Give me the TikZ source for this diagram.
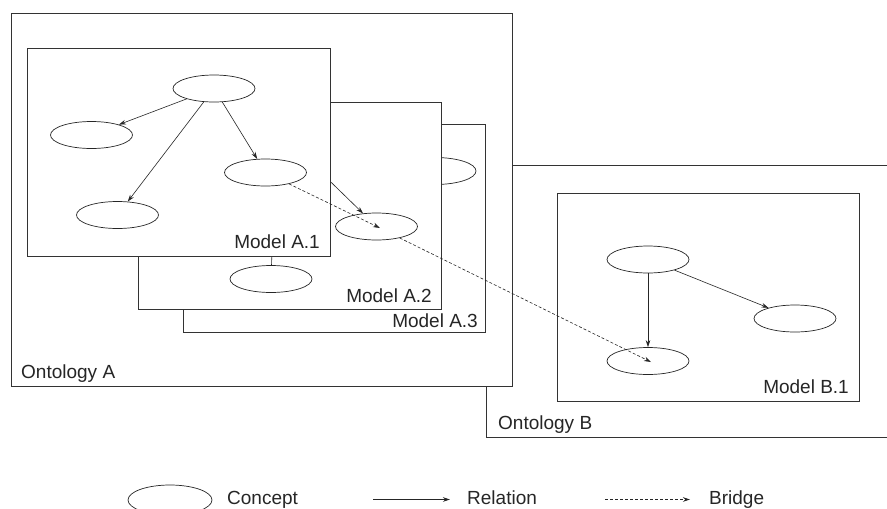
\documentclass[tikz,border=0pt]{standalone}
\usepackage{fontspec}
\setmainfont{Liberation Sans}
\usetikzlibrary{shapes.geometric,arrows.meta}
\begin{document}
\begin{tikzpicture}[x=1pt,y=-1pt,
  frame/.style={draw=black!80, line width=0.8pt, fill=white},
  concept/.style={ellipse, draw=black!85, line width=0.7pt, fill=white,
    minimum width=82pt, minimum height=27pt, inner sep=0pt},
  rel/.style={draw=black!85, line width=0.6pt, -{Stealth[length=7pt,width=4.5pt]}},
  bridge/.style={rel, dash pattern=on 3pt off 2pt},
  lbl/.style={font=\fontsize{19}{22}\selectfont, text=black!85, inner sep=0pt}]
\useasboundingbox (0,0) rectangle (887,509);
\clip (0,0) rectangle (887,509);

% ---------- Ontology B ----------
\draw[frame] (486,165) rectangle (905,437);
\node[lbl, anchor=base west] (ontB) at (498,429) {Ontology B};
\draw[frame] (557,193) rectangle (859,401);
\node[lbl, anchor=base east] (mB1) at (849,393) {Model B.1};
\node[concept] (btop) at (648,259.5) {};
\node[concept] (bright) at (795,318.5) {};
\node[concept] (bbot) at (648,361) {};
\draw[rel] (btop) -- (bbot);
\draw[rel] (btop) -- (bright);

% ---------- Ontology A ----------
\draw[frame] (11,13) rectangle (512,386);
\node[lbl, anchor=base west] (ontA) at (21,378) {Ontology A};

% Model A.3
\draw[frame] (183,124) rectangle (485,332);
\node[lbl, anchor=base east] (mA3) at (478,327) {Model A.3};
\node[concept] (a3c) at (435,171) {};

% Model A.2
\draw[frame] (138,102) rectangle (441,309);
\node[lbl, anchor=base east] (mA2) at (432,302) {Model A.2};
\node[concept] (a2c) at (376.5,226.5) {};
\node[concept] (a2b) at (271,279) {};
\coordinate (a2src) at (300,152);
\coordinate (a2up) at (273,225);
\draw[rel] (a2src) -- (a2c);
\draw[rel] (a2b) -- (a2up);

% Model A.1
\draw[frame] (27,48) rectangle (330,256);
\node[lbl, anchor=base east] (mA1) at (320,248) {Model A.1};
\node[concept] (a1top) at (214,88.5) {};
\node[concept] (a1left) at (91.5,135) {};
\node[concept] (a1right) at (265.5,172.5) {};
\node[concept] (a1bot) at (117.5,215) {};
\draw[rel] (a1top) -- (a1left);
\draw[rel] (a1top) -- (a1bot);
\draw[rel] (a1top) -- (a1right);

% ---------- bridges between models ----------
\coordinate (t1) at (380,228);
\coordinate (t2) at (651,362);
\draw[bridge] (a1right) -- (t1);
\draw[bridge] (a2c) -- (t2);

% ---------- legend ----------
\node[concept, minimum width=84pt, minimum height=30pt] (legc) at (170,500) {};
\node[lbl, anchor=base west] (legct) at (227,504.5) {Concept};
\coordinate (lr1) at (373,499.5);
\coordinate (lr2) at (450,499.5);
\draw[rel] (lr1) -- (lr2);
\node[lbl, anchor=base west] (legrt) at (467,504.5) {Relation};
\coordinate (lb1) at (605,499.5);
\coordinate (lb2) at (690,499.5);
\draw[bridge] (lb1) -- (lb2);
\node[lbl, anchor=base west] (legbt) at (709,504.5) {Bridge};
\end{tikzpicture}
\end{document}
